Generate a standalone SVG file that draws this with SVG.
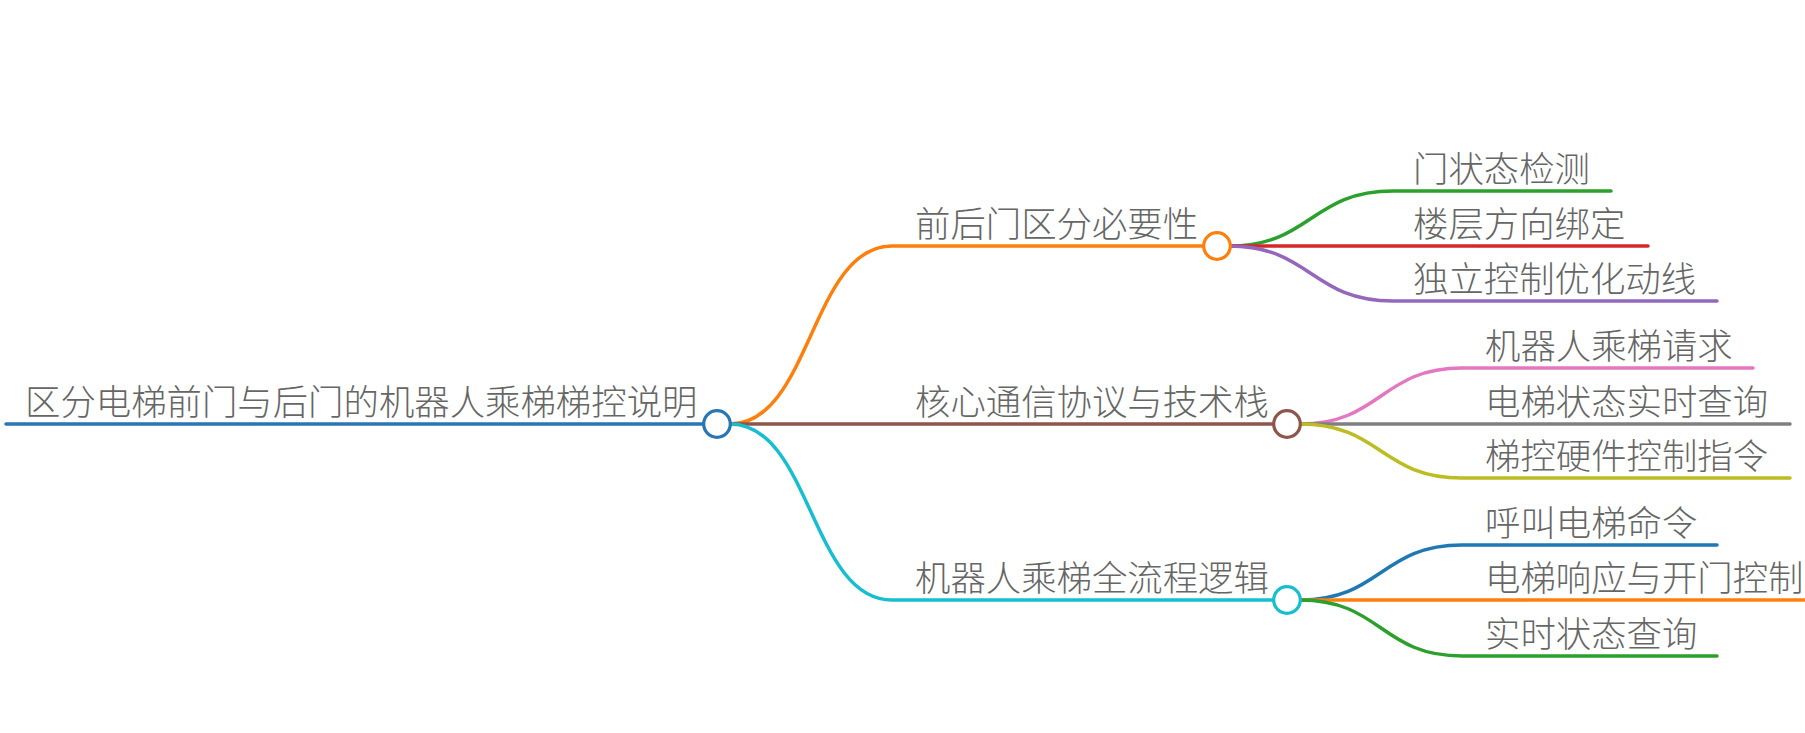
<svg xmlns="http://www.w3.org/2000/svg" width="1805" height="733" viewBox="0 0 1805 733">
<style>
text{font-family:"Noto Sans CJK SC","Noto Sans",sans-serif;font-size:35.4px;font-weight:300;fill:#666}
.c{fill:none;stroke-width:3.5;stroke-linecap:round}
.n{fill:#fff;stroke-width:3.2}
</style>
<rect width="1805" height="733" fill="#fff"/>
<g id="connectors">
<path class="c" stroke="#2a76b4" d="M6,424 H704"/>
<path class="c" stroke="#ff7f0e" d="M730,424 C811,424 811,246 892,246 H1204"/>
<path class="c" stroke="#8c564b" d="M730,424 H1274"/>
<path class="c" stroke="#17becf" d="M730,424 C811,424 811,600 892,600 H1274"/>
<path class="c" stroke="#2ca02c" d="M1229,246 C1311,246 1311,191 1393,191 H1611"/>
<path class="c" stroke="#d62728" d="M1229,246 H1648"/>
<path class="c" stroke="#9467bd" d="M1229,246 C1311,246 1311,301 1393,301 H1717"/>
<path class="c" stroke="#e377c2" d="M1300,424 C1381,424 1381,368 1462,368 H1753"/>
<path class="c" stroke="#7f7f7f" d="M1300,424 H1790"/>
<path class="c" stroke="#bcbd22" d="M1300,424 C1381,424 1381,478 1462,478 H1790"/>
<path class="c" stroke="#1f77b4" d="M1300,600 C1381,600 1381,545 1462,545 H1717"/>
<path class="c" stroke="#ff7f0e" d="M1300,600 H1805"/>
<path class="c" stroke="#2ca02c" d="M1300,600 C1381,600 1381,656 1462,656 H1717"/>
</g>
<g id="root">
<text x="25" y="415">区分电梯前门与后门的机器人乘梯梯控说明</text>
<circle class="n" stroke="#2a76b4" cx="717" cy="424" r="13.3"/>
</g>
<g id="n1">
<text x="915" y="237">前后门区分必要性</text>
<circle class="n" stroke="#ff7f0e" cx="1217" cy="246" r="13.3"/>
</g>
<g id="n2">
<text x="915" y="415">核心通信协议与技术栈</text>
<circle class="n" stroke="#8c564b" cx="1287" cy="424" r="13.3"/>
</g>
<g id="n3">
<text x="915" y="591">机器人乘梯全流程逻辑</text>
<circle class="n" stroke="#17becf" cx="1287" cy="600" r="13.3"/>
</g>
<g id="n1a"><text x="1413" y="182">门状态检测</text></g>
<g id="n1b"><text x="1413" y="237">楼层方向绑定</text></g>
<g id="n1c"><text x="1413" y="292">独立控制优化动线</text></g>
<g id="n2a"><text x="1485" y="359">机器人乘梯请求</text></g>
<g id="n2b"><text x="1485" y="415">电梯状态实时查询</text></g>
<g id="n2c"><text x="1485" y="469">梯控硬件控制指令</text></g>
<g id="n3a"><text x="1485" y="536">呼叫电梯命令</text></g>
<g id="n3b"><text x="1485" y="591">电梯响应与开门控制</text></g>
<g id="n3c"><text x="1485" y="647">实时状态查询</text></g>
</svg>
